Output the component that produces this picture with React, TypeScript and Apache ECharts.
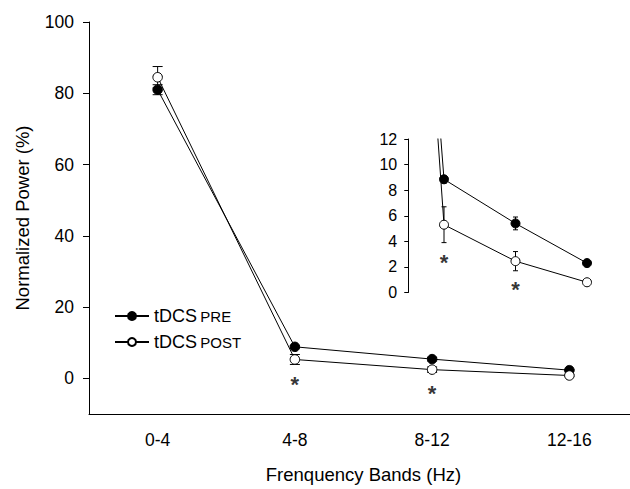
import React, { useEffect, useRef } from "react";
import * as echarts from "echarts";

const CATEGORIES = ["0-4", "4-8", "8-12", "12-16"];
const PRE = [81.0, 8.85, 5.4, 2.3];
const POST = [84.5, 5.3, 2.45, 0.8];
const PRE_ERR = [1.4, 0.3, 0.5, 0.2];
const POST_ERR = [3.0, 1.4, 0.75, 0.2];
const MAIN_Y_TICKS = [0, 20, 40, 60, 80, 100];
const MAIN_STARS = [
  [1, -0.3],
  [2, -2.8],
];
const INSET_STARS = [
  [1, 2.7],
  [2, 0.6],
];
const LEGEND_NAMES = ["tDCS PRE", "tDCS POST"];

const FONT = "Liberation Sans, Arial, sans-serif";

function errRender(cap: number) {
  return (params: any, api: any) => {
    const x = api.value(0);
    const y = api.value(1);
    const e = api.value(2);
    const top = api.coord([x, y + e]);
    const bot = api.coord([x, y - e]);
    const st = { stroke: "#000", lineWidth: 1 };
    return {
      type: "group",
      children: [
        { type: "line", shape: { x1: top[0], y1: top[1], x2: bot[0], y2: bot[1] }, style: st },
        { type: "line", shape: { x1: top[0] - cap / 2, y1: top[1], x2: top[0] + cap / 2, y2: top[1] }, style: st },
        { type: "line", shape: { x1: bot[0] - cap / 2, y1: bot[1], x2: bot[0] + cap / 2, y2: bot[1] }, style: st },
      ],
    };
  };
}

export default function App() {
  const ref = useRef<HTMLDivElement>(null);
  useEffect(() => {
    document.body.style.margin = "0";
    document.body.style.overflow = "hidden";
    const chart = echarts.init(ref.current!, null, { renderer: "svg" });
    const idx = CATEGORIES.map((_, i) => i);
    const preErr = idx.map((i) => [i, PRE[i], PRE_ERR[i]]);
    const postErr = idx.map((i) => [i, POST[i], POST_ERR[i]]);
    const preXY = idx.map((i) => [i, PRE[i]]);
    const postXY = idx.map((i) => [i, POST[i]]);
    const starLabel = {
      show: true,
      formatter: "*",
      position: "inside",
      fontSize: 22,
      fontWeight: "bold",
      color: "#000",
      fontFamily: FONT,
      offset: [0, 5],
    };
    const preStyle = { color: "#000", borderColor: "#000", borderWidth: 1 };
    const postStyle = { color: "#fff", borderColor: "#000", borderWidth: 1 };
    chart.setOption({
      animation: false,
      textStyle: { fontFamily: FONT, color: "#000" },
      grid: [
        { left: 89, top: 22, width: 549, height: 395 },
        { left: 408.25, top: 139, width: 214.5, height: 153.5 },
      ],
      legend: {
        data: LEGEND_NAMES,
        orient: "vertical",
        left: 109,
        top: 302,
        itemWidth: 34,
        itemHeight: 10,
        itemGap: 8,
        textStyle: {
          rich: {
            a: { fontSize: 18, fontFamily: FONT, color: "#000" },
            b: { fontSize: 15, fontFamily: FONT, color: "#000" },
          },
        },
        formatter: (name: string) => {
          const parts = name.split(" ");
          return `{a|${parts[0]}} {b|${parts[1]}}`;
        },
      },
      xAxis: [
        {
          type: "category",
          gridIndex: 0,
          data: CATEGORIES,
          boundaryGap: true,
          axisLine: { onZero: false, lineStyle: { color: "#000", width: 1 } },
          axisTick: { alignWithLabel: true, length: 5, lineStyle: { color: "#000" } },
          axisLabel: { fontSize: 17.5, color: "#000", margin: 17, fontFamily: FONT },
          name: "Frenquency Bands (Hz)",
          nameLocation: "middle",
          nameGap: 51,
          nameTextStyle: { fontSize: 18.5, color: "#000", fontFamily: FONT },
          splitLine: { show: false },
        },
        {
          type: "value",
          gridIndex: 1,
          min: 0.5,
          max: 3.5,
          show: false,
          splitLine: { show: false },
        },
      ],
      yAxis: [
        {
          type: "value",
          gridIndex: 0,
          min: -10,
          max: 100,
          axisLine: { show: true, lineStyle: { color: "#000", width: 1 } },
          axisTick: { show: true, length: 6, customValues: MAIN_Y_TICKS, lineStyle: { color: "#000" } },
          axisLabel: { fontSize: 17.5, color: "#000", margin: 15, customValues: MAIN_Y_TICKS, fontFamily: FONT },
          splitLine: { show: false },
          name: "Normalized Power (%)",
          nameLocation: "middle",
          nameGap: 57,
          nameTextStyle: { fontSize: 18.5, color: "#000", fontFamily: FONT },
        },
        {
          type: "value",
          gridIndex: 1,
          min: 0,
          max: 12,
          interval: 2,
          axisLine: { show: true, lineStyle: { color: "#000", width: 1 } },
          axisTick: { show: true, length: 4, lineStyle: { color: "#000" } },
          axisLabel: { fontSize: 16, color: "#000", margin: 11, fontFamily: FONT },
          splitLine: { show: false },
        },
      ],
      series: [
        {
          type: "custom",
          xAxisIndex: 0,
          yAxisIndex: 0,
          renderItem: errRender(10),
          data: preErr,
          z: 1,
        },
        {
          type: "custom",
          xAxisIndex: 0,
          yAxisIndex: 0,
          renderItem: errRender(10),
          data: postErr,
          z: 1,
        },
        {
          name: "tDCS PRE",
          type: "line",
          xAxisIndex: 0,
          yAxisIndex: 0,
          data: PRE,
          symbol: "circle",
          symbolSize: 9.5,
          itemStyle: preStyle,
          lineStyle: { color: "#000", width: 1 },
          z: 3,
        },
        {
          name: "tDCS POST",
          type: "line",
          xAxisIndex: 0,
          yAxisIndex: 0,
          data: POST,
          symbol: "circle",
          symbolSize: 9.5,
          itemStyle: postStyle,
          lineStyle: { color: "#000", width: 1 },
          z: 4,
        },
        {
          type: "scatter",
          xAxisIndex: 0,
          yAxisIndex: 0,
          data: MAIN_STARS,
          symbolSize: 1,
          itemStyle: { color: "rgba(0,0,0,0)" },
          label: starLabel,
          z: 5,
        },
        {
          type: "custom",
          xAxisIndex: 1,
          yAxisIndex: 1,
          renderItem: errRender(5),
          data: preErr.slice(1),
          clip: true,
          z: 1,
        },
        {
          type: "custom",
          xAxisIndex: 1,
          yAxisIndex: 1,
          renderItem: errRender(5),
          data: postErr.slice(1),
          clip: true,
          z: 1,
        },
        {
          name: "tDCS PRE",
          type: "line",
          xAxisIndex: 1,
          yAxisIndex: 1,
          data: preXY,
          symbol: "circle",
          symbolSize: 9,
          itemStyle: preStyle,
          lineStyle: { color: "#000", width: 1 },
          clip: true,
          z: 3,
        },
        {
          name: "tDCS POST",
          type: "line",
          xAxisIndex: 1,
          yAxisIndex: 1,
          data: postXY,
          symbol: "circle",
          symbolSize: 9,
          itemStyle: postStyle,
          lineStyle: { color: "#000", width: 1 },
          clip: true,
          z: 4,
        },
        {
          type: "scatter",
          xAxisIndex: 1,
          yAxisIndex: 1,
          data: INSET_STARS,
          symbolSize: 1,
          itemStyle: { color: "rgba(0,0,0,0)" },
          label: starLabel,
          clip: false,
          z: 5,
        },
      ],
    });
    return () => chart.dispose();
  }, []);
  return (
    <div style={{ width: 630, height: 489, overflow: "hidden", position: "relative" }}>
      <div ref={ref} style={{ width: 640, height: 489 }} />
    </div>
  );
}
